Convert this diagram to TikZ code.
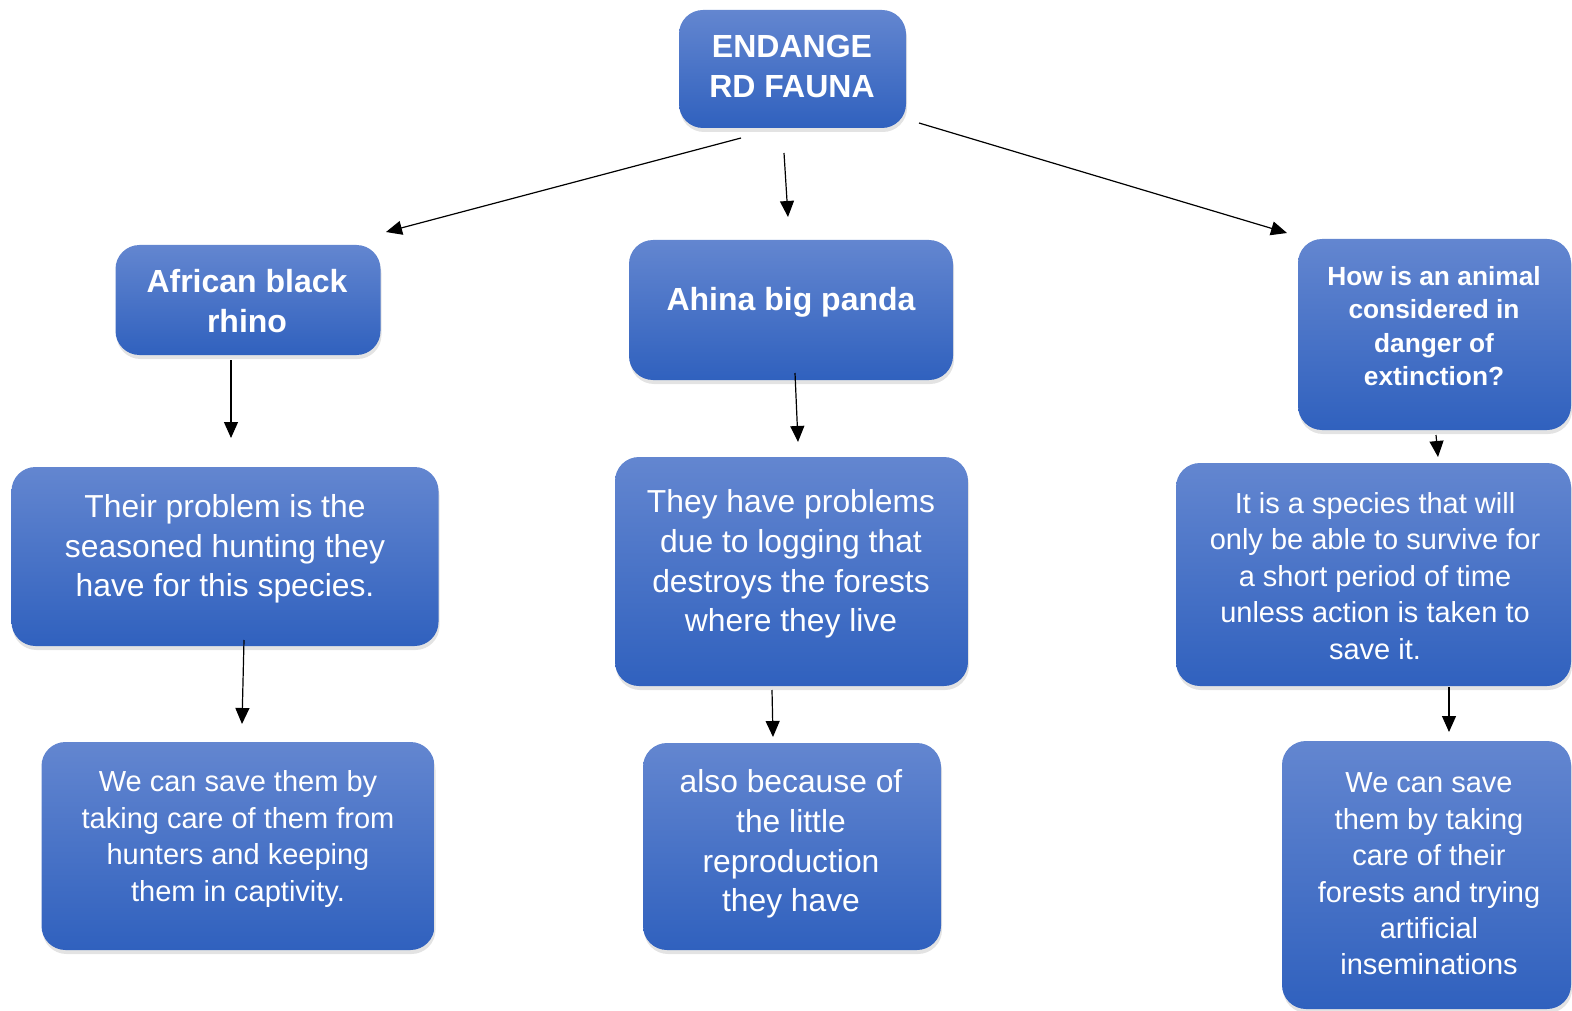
\documentclass[tikz,border=0pt]{standalone}
\usepackage{fontspec}
\setmainfont{Liberation Sans}
\usetikzlibrary{arrows.meta,shadows}
\definecolor{boxtop}{RGB}{99,134,208}
\definecolor{boxbottom}{RGB}{48,97,190}
\begin{document}
\begin{tikzpicture}
[x=1pt,y=-1pt,
  boxdecorate/.style={rounded corners=24pt,top color=boxtop,bottom color=boxbottom,
    draw=none,inner sep=0pt,
    drop shadow={shadow xshift=1pt,shadow yshift=-4pt,opacity=0.22}},%
  textdecorate/.style={text=white,align=center,inner sep=0pt},%
  bigbold/.style={textdecorate,font=\bfseries\fontsize{32}{40}\selectfont},%
  smallbold/.style={textdecorate,font=\bfseries\fontsize{26.3}{33.5}\selectfont},%
  bigplain/.style={textdecorate,font=\fontsize{31.8}{39.7}\selectfont},%
  smallplain/.style={textdecorate,font=\fontsize{29}{36.4}\selectfont},%
  linedecorate/.style={-{Triangle[length=16pt,width=14pt]},line width=1.2pt}]
\useasboundingbox (0,0) rectangle (1572,1011);
%% boxes
\foreach \nodename/\x/\y/\w/\h in {top/792.5/69/227/118, rhino/248/300/265/110,
    panda/791/310/324/140, how/1434.5/334.5/273/191, hunt/225/556.5/427/179,
    logging/791.5/571.5/353/229, species/1373.5/574.5/395/223,
    saveleft/238/846/393/208, repro/792/846.5/298/207, saveright/1426.5/875/289/268} {
  \node (\nodename) at (\x,\y) [boxdecorate,minimum width=\w pt,minimum height=\h pt] {};
}
%% texts
\node (top-t) at (792,66) [bigbold] {ENDANGE\\RD FAUNA};
\node (rhino-t) at (247,301) [bigbold] {African black\\rhino};
\node (panda-t) at (791,302) [bigbold] {Ahina big panda};
\node (how-t) at (1434,326) [smallbold] {How is an animal\\considered in\\danger of\\extinction?};
\node (hunt-t) at (225,549) [bigplain] {Their problem is the\\seasoned hunting they\\have for this species.};
\node (logging-t) at (791,564) [bigplain] {They have problems\\due to logging that\\destroys the forests\\where they live};
\node (species-t) at (1375,576) [smallplain] {It is a species that will\\only be able to survive for\\a short period of time\\unless action is taken to\\save it.};
\node (saveleft-t) at (238,839) [smallplain] {We can save them by\\taking care of them from\\hunters and keeping\\them in captivity.};
\node (repro-t) at (791,844) [bigplain] {also because of\\the little\\reproduction\\they have};
\node (saveright-t) at (1429,874) [smallplain] {We can save\\them by taking\\care of their\\forests and trying\\artificial\\inseminations};
%% arrow ends
\foreach \nodename/\x/\y in {a1/741/138, b1/386/232, a2/784/153, b2/788/217,
    a3/919/123, b3/1287/233, a4/231/360, b4/231/438, a5/795/373, b5/798/442,
    a6/1436/435, b6/1438/457, a7/244/640, b7/242/724, a8/772/690, b8/773/737,
    a9/1449/687, b9/1449/732} {
  \coordinate (\nodename) at (\x,\y);
}
%% connectors
\foreach \startnode/\endnode in {a1/b1, a2/b2, a3/b3, a4/b4, a5/b5, a6/b6, a7/b7, a8/b8, a9/b9} {
  \draw[linedecorate] (\startnode) -- (\endnode);
}
\end{tikzpicture}
\end{document}
